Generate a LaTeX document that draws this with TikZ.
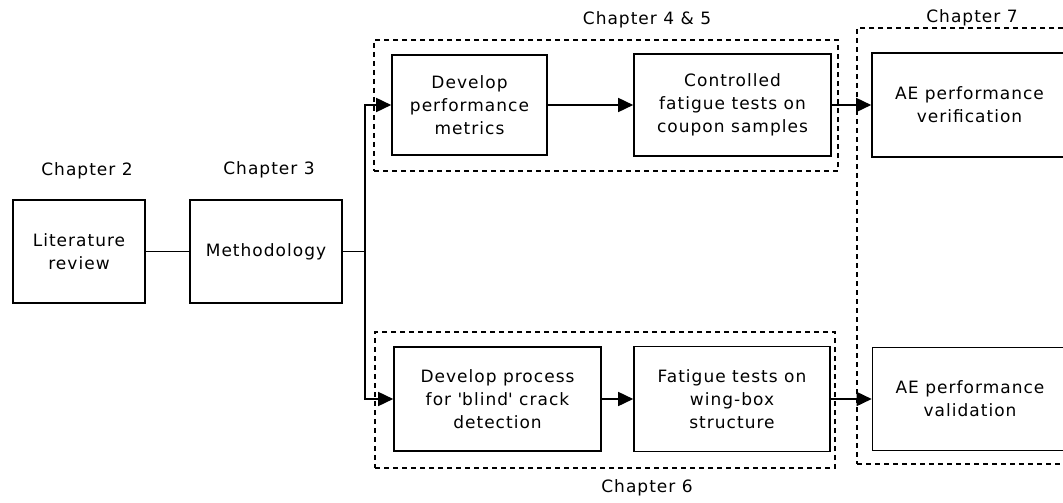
\documentclass[tikz,border=0pt]{standalone}
\usepackage{fontspec}
\setmainfont[LetterSpace=6]{DejaVu Sans}
\usetikzlibrary{arrows.meta}
\begin{document}
\begin{tikzpicture}[x=1pt,y=-1pt,
  every node/.style={font=\fontsize{17}{23}\selectfont},
  box/.style={draw, line width=1.6pt, inner sep=0pt, align=center},
  dbox/.style={draw, line width=1.3pt, dash pattern=on 5pt off 4pt, inner sep=0pt},
  lbl/.style={inner sep=0pt},
  arr/.style={line width=1.6pt, -{Triangle[length=15pt,width=14pt]}},
  ln/.style={line width=1.6pt}]
\useasboundingbox (0,0) rectangle (1063,503);
\clip (0,0) rectangle (1063,503);
% group frames
\node[dbox, minimum width=464, minimum height=131] (g45) at (606,105.5) {};
\node[dbox, minimum width=460, minimum height=136] (g6) at (605,400) {};
\node[dbox, minimum width=263, minimum height=436] (g7) at (988.5,246) {};
% chapter labels
\node[lbl] (c2) at (87,171) {Chapter 2};
\node[lbl] (c3) at (269,170) {Chapter 3};
\node[lbl] (c45) at (647,20) {Chapter 4 \& 5};
\node[lbl] (c6) at (647,488) {Chapter 6};
\node[lbl] (c7) at (972,18) {Chapter 7};
% boxes
\node[box, minimum width=132, minimum height=103] (lit) at (79,251.5) {Literature\\review};
\node[box, minimum width=152, minimum height=103] (meth) at (266,251.5) {Methodology};
\node[box, minimum width=155, minimum height=100] (dev) at (469.5,105) {Develop\\performance\\metrics};
\node[box, minimum width=197, minimum height=102] (ctrl) at (732.5,105) {Controlled\\fatigue tests on\\coupon samples};
\node[box, minimum width=207, minimum height=104] (proc) at (497.5,399) {Develop process\\for \textquotesingle blind\textquotesingle{} crack\\detection};
\node[box, minimum width=196, minimum height=105] (fat) at (732,399) {Fatigue tests on\\wing-box\\structure};
\node[box, minimum width=195, minimum height=104] (ver) at (969.5,105) {AE performance\\verification};
\node[box, minimum width=195, minimum height=103] (val) at (970,399) {AE performance\\validation};
\coordinate (j) at (365,251.5);
% connectors
\draw[ln] (lit) -- (meth);
\draw[ln] (meth.east) -- (j);
\draw[arr] (j) |- (dev.west);
\draw[arr] (j) |- (proc.west);
\draw[arr] (dev) -- (ctrl);
\draw[arr] (proc) -- (fat);
\draw[arr] (ctrl) -- (ver);
\draw[arr] (fat) -- (val);
\end{tikzpicture}
\end{document}
